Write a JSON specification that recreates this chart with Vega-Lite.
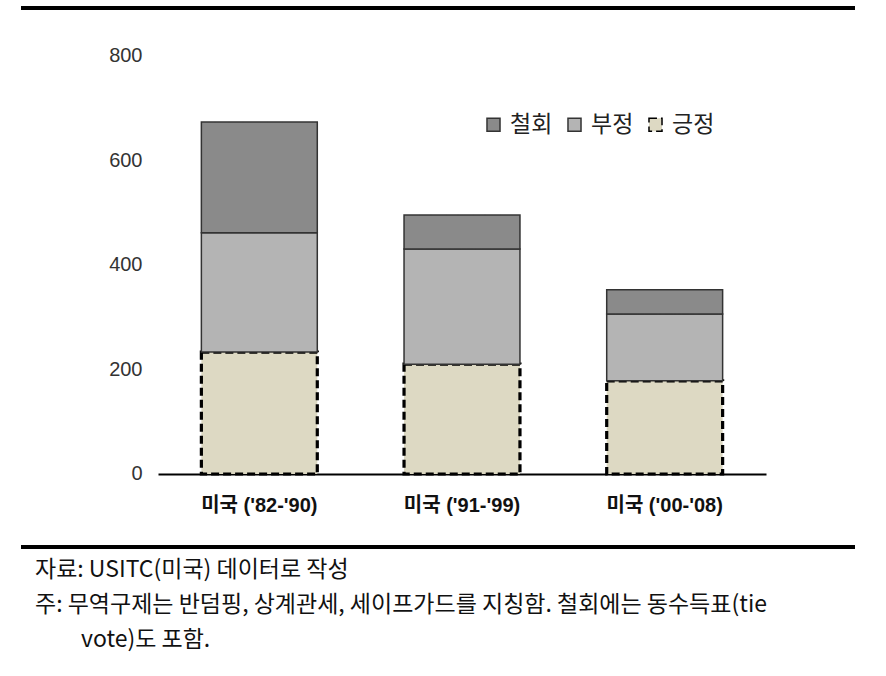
{
  "$schema": "https://vega.github.io/schema/vega-lite/v6.json",
  "width": 834,
  "height": 539,
  "autosize": {"type": "none"},
  "padding": {"left": 21, "top": 8, "right": 31, "bottom": 129},
  "background": "white",
  "config": {
    "view": {"stroke": null},
    "font": "Liberation Sans",
    "legend": {
      "orient": "none",
      "legendX": 461,
      "legendY": 105,
      "direction": "horizontal",
      "labelFont": "Noto Sans CJK KR",
      "labelFontSize": 23,
      "labelColor": "#222",
      "symbolType": "square",
      "symbolSize": 170,
      "symbolStrokeWidth": 1.5,
      "columnPadding": 10,
      "labelOffset": 5
    }
  },
  "title": {
    "text": [
      "자료: USITC(미국) 데이터로 작성",
      "주: 무역구제는 반덤핑, 상계관세, 세이프가드를 지칭함. 철회에는 동수득표(tie",
      "\u200b\u3000\u3000vote)도 포함."
    ],
    "orient": "bottom",
    "anchor": "start",
    "frame": "group",
    "font": "Noto Sans CJK KR",
    "fontSize": 23,
    "fontWeight": "normal",
    "color": "#111",
    "lineHeight": 35,
    "baseline": "top",
    "offset": 10,
    "dx": 14
  },
  "data": {
    "values": [
      {"period": "미국 ('82-'90)", "series": "긍정", "value": 233},
      {"period": "미국 ('82-'90)", "series": "부정", "value": 228},
      {"period": "미국 ('82-'90)", "series": "철회", "value": 212},
      {"period": "미국 ('91-'99)", "series": "긍정", "value": 210},
      {"period": "미국 ('91-'99)", "series": "부정", "value": 220},
      {"period": "미국 ('91-'99)", "series": "철회", "value": 65},
      {"period": "미국 ('00-'08)", "series": "긍정", "value": 178},
      {"period": "미국 ('00-'08)", "series": "부정", "value": 128},
      {"period": "미국 ('00-'08)", "series": "철회", "value": 46}
    ]
  },
  "layer": [
    {
      "mark": {"type": "bar"},
      "encoding": {
        "x": {
          "field": "period",
          "type": "nominal",
          "sort": null,
          "scale": {"range": [137, 745], "paddingInner": 0.428, "paddingOuter": 0.214},
          "axis": {
            "title": null,
            "orient": "bottom",
            "offset": -73,
            "domainColor": "black",
            "domainWidth": 2,
            "ticks": false,
            "labelAngle": 0,
            "labelFont": "Liberation Sans, Noto Sans CJK KR",
            "labelFontSize": 20,
            "labelFontWeight": "bold",
            "labelColor": "#111",
            "labelPadding": 21
          }
        },
        "y": {
          "field": "value",
          "type": "quantitative",
          "stack": "zero",
          "scale": {"domain": [-139.6, 890.8], "nice": false, "zero": false},
          "axis": {
            "title": null,
            "values": [0, 200, 400, 600, 800],
            "grid": false,
            "domain": false,
            "ticks": false,
            "tickSize": 0,
            "offset": -129,
            "labelPadding": 8,
            "labelFont": "Liberation Sans",
            "labelFontSize": 20,
            "labelColor": "#333"
          }
        },
        "color": {
          "field": "series",
          "type": "nominal",
          "scale": {"domain": ["철회", "부정", "긍정"], "range": ["#8a8a8a", "#b4b4b4", "#ddd9c3"]},
          "legend": {"title": null}
        },
        "stroke": {
          "field": "series",
          "type": "nominal",
          "scale": {"domain": ["철회", "부정", "긍정"], "range": ["#333333", "#333333", "#000000"]},
          "legend": {"title": null}
        },
        "strokeDash": {
          "field": "series",
          "type": "nominal",
          "scale": {"domain": ["철회", "부정", "긍정"], "range": [[1, 0], [1, 0], [8, 4]]},
          "legend": {"title": null}
        },
        "strokeWidth": {
          "condition": {"test": "datum.series === '긍정'", "value": 3.2},
          "value": 1.5
        },
        "order": {"field": "series", "sort": "ascending"}
      }
    },
    {
      "mark": {"type": "rule", "color": "black", "strokeWidth": 3.5},
      "encoding": {"y": {"datum": 890.8, "type": "quantitative"}}
    },
    {
      "mark": {"type": "rule", "color": "black", "strokeWidth": 3},
      "encoding": {"y": {"datum": -139.6, "type": "quantitative"}}
    }
  ]
}
